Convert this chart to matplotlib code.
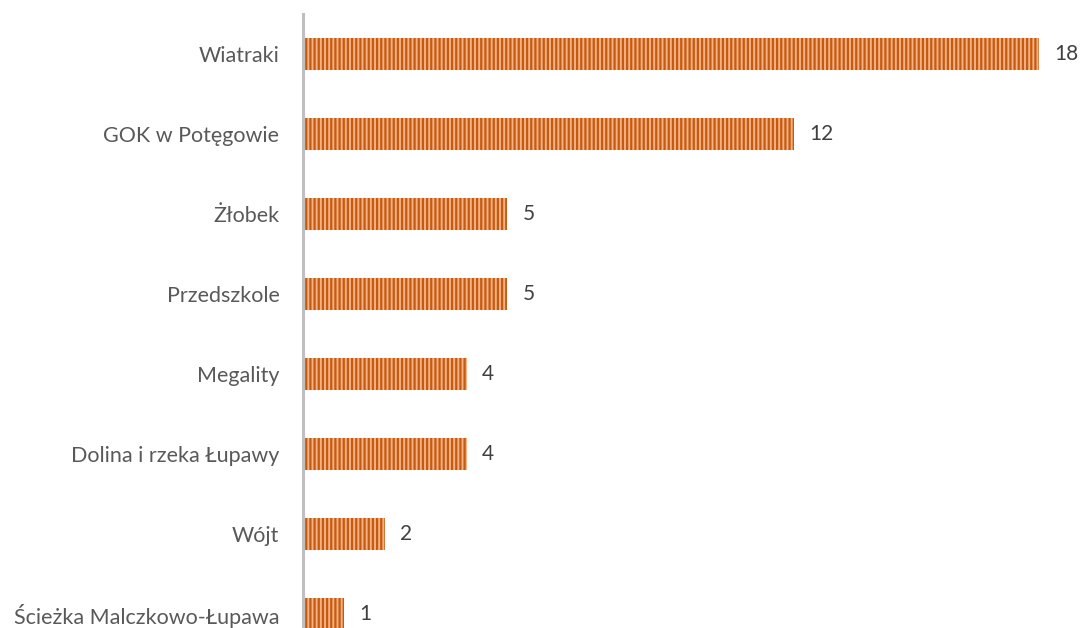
import matplotlib.pyplot as plt

kategorie = ["Wiatraki", "GOK w Potęgowie", "Żłobek", "Przedszkole", "Megality",
             "Dolina i rzeka Łupawy", "Wójt", "Ścieżka Malczkowo-Łupawa"]
wartosci = [18, 12, 5, 5, 4, 4, 2, 1]

plt.rcParams['font.family'] = ['Lato', 'DejaVu Sans']
plt.rcParams['hatch.linewidth'] = 1.6
plt.rcParams['hatch.color'] = '#C55A11'

fig = plt.figure(figsize=(10.83, 6.28), dpi=100)
# os y jest przycieta od dolu, jak w oryginale
ax = fig.add_axes([303 / 1083, -26 / 628, 777 / 1083, 640 / 628])

pozycje = list(range(len(kategorie)))
slupki = ax.barh(pozycje, wartosci, height=0.4, color='#F4B183',
                 edgecolor='#C55A11', linewidth=0, hatch='||||')
ax.bar_label(slupki, padding=11, fontsize=15, color='#404040')

ax.set_yticks(pozycje)
ax.set_yticklabels(kategorie, fontsize=15.5, color='#595959')
ax.tick_params(axis='y', length=0, pad=17)
ax.set_ylim(len(kategorie) - 0.5, -0.5)
ax.set_xlim(0, 19)
ax.set_xticks([])

for s in ['top', 'right', 'bottom']:
    ax.spines[s].set_visible(False)
ax.spines['left'].set_color('#BFBFBF')
ax.spines['left'].set_linewidth(2.2)

fig.savefig('out.png', dpi=100)
